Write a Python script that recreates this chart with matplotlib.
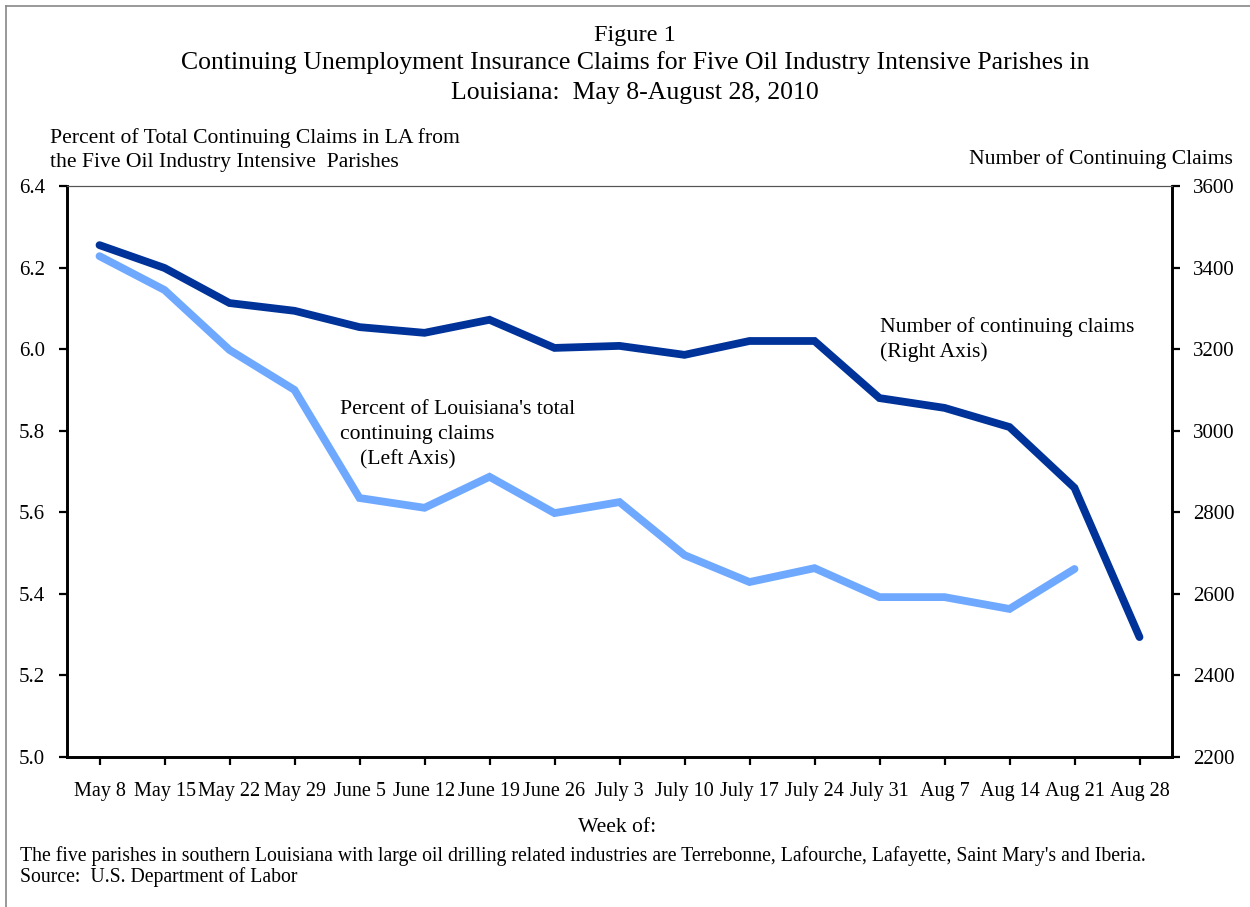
import matplotlib
matplotlib.use("Agg")
import matplotlib.pyplot as plt
from matplotlib.lines import Line2D

plt.rcParams['font.family'] = ['Liberation Serif', 'DejaVu Serif']

weeks = ['May 8', 'May 15', 'May 22', 'May 29', 'June 5', 'June 12', 'June 19',
         'June 26', 'July 3', 'July 10', 'July 17', 'July 24', 'July 31',
         'Aug 7', 'Aug 14', 'Aug 21', 'Aug 28']

# number of continuing claims (right axis)
claims = [3455, 3399, 3313, 3294, 3254, 3240, 3272, 3203, 3208, 3186,
          3220, 3220, 3080, 3056, 3009, 2860, 2494]

# percent of LA total continuing claims (left axis), no value for Aug 28
percent = [6.228, 6.145, 5.998, 5.900, 5.635, 5.611, 5.687, 5.598, 5.625,
           5.495, 5.429, 5.463, 5.392, 5.392, 5.363, 5.461]

left_ticks = [5.0, 5.2, 5.4, 5.6, 5.8, 6.0, 6.2, 6.4]
right_ticks = [2200, 2400, 2600, 2800, 3000, 3200, 3400, 3600]

W, H = 1250, 907
fig = plt.figure(figsize=(W / 100, H / 100), dpi=100)
ax = fig.add_axes([67 / W, 1 - 757 / H, (1172 - 67) / W, (757 - 186) / H])
ax2 = ax.twinx()

x = list(range(len(weeks)))
ax.plot(x[:len(percent)], percent, color='#6EA9FF', lw=5.6, solid_capstyle='round',
        solid_joinstyle='miter', zorder=3)
ax2.plot(x, claims, color='#003399', lw=5.6, solid_capstyle='round',
         solid_joinstyle='miter', zorder=3)

ax.set_xlim(-0.5, len(weeks) - 0.5)
ax.set_ylim(5.0, 6.4)
ax2.set_ylim(2200, 3600)
ax.set_yticks(left_ticks)
ax.set_yticklabels(['%.1f' % v for v in left_ticks])
ax2.set_yticks(right_ticks)
ax2.set_yticklabels([str(v) for v in right_ticks])
ax.set_xticks(x)
ax.set_xticklabels(weeks)

for a in (ax, ax2):
    for s in ('left', 'right', 'bottom'):
        a.spines[s].set_linewidth(1.9)
        a.spines[s].set_color('black')
    a.spines['top'].set_linewidth(0.8)
    a.spines['top'].set_color('#555555')
ax.tick_params(axis='y', direction='out', length=6, width=1.6, pad=10, labelsize=15)
ax2.tick_params(axis='y', direction='out', length=6, width=1.6, pad=9, labelsize=15)
ax.tick_params(axis='x', direction='out', length=6, width=1.6, pad=12, labelsize=14.5)

# titles
fig.text(635 / W, 1 - 35 / H, 'Figure 1', ha='center', va='center', fontsize=17.5)
fig.text(635 / W, 1 - 63 / H,
         'Continuing Unemployment Insurance Claims for Five Oil Industry Intensive Parishes in',
         ha='center', va='center', fontsize=18.5)
fig.text(635 / W, 1 - 93 / H, 'Louisiana:  May 8-August 28, 2010',
         ha='center', va='center', fontsize=18.5)

# axis titles
fig.text(50 / W, 1 - 138 / H, 'Percent of Total Continuing Claims in LA from',
         ha='left', va='center', fontsize=15.6)
fig.text(50 / W, 1 - 162 / H, 'the Five Oil Industry Intensive  Parishes',
         ha='left', va='center', fontsize=15.6)
fig.text(1233 / W, 1 - 159 / H, 'Number of Continuing Claims',
         ha='right', va='center', fontsize=15.6)

# series annotations
fig.text(340 / W, 1 - 410 / H, "Percent of Louisiana's total", ha='left', va='center', fontsize=15.6)
fig.text(340 / W, 1 - 435 / H, 'continuing claims', ha='left', va='center', fontsize=15.6)
fig.text(360 / W, 1 - 460 / H, '(Left Axis)', ha='left', va='center', fontsize=15.6)
fig.text(880 / W, 1 - 327 / H, 'Number of continuing claims', ha='left', va='center', fontsize=15.6)
fig.text(880 / W, 1 - 352 / H, '(Right Axis)', ha='left', va='center', fontsize=15.6)

fig.text(617 / W, 1 - 827 / H, 'Week of:', ha='center', va='center', fontsize=15.6)
fig.text(20 / W, 1 - 856 / H,
         "The five parishes in southern Louisiana with large oil drilling related industries are "
         "Terrebonne, Lafourche, Lafayette, Saint Mary's and Iberia.",
         ha='left', va='center', fontsize=14.2)
fig.text(20 / W, 1 - 877 / H, 'Source:  U.S. Department of Labor',
         ha='left', va='center', fontsize=14.2)

# chart-area border (top and left visible)
fig.add_artist(Line2D([6 / W, 6 / W], [0, 1 - 6 / H], color='#888888', lw=1.2))
fig.add_artist(Line2D([6 / W, 1], [1 - 6 / H, 1 - 6 / H], color='#888888', lw=1.2))

fig.savefig('out.png', dpi=100)
